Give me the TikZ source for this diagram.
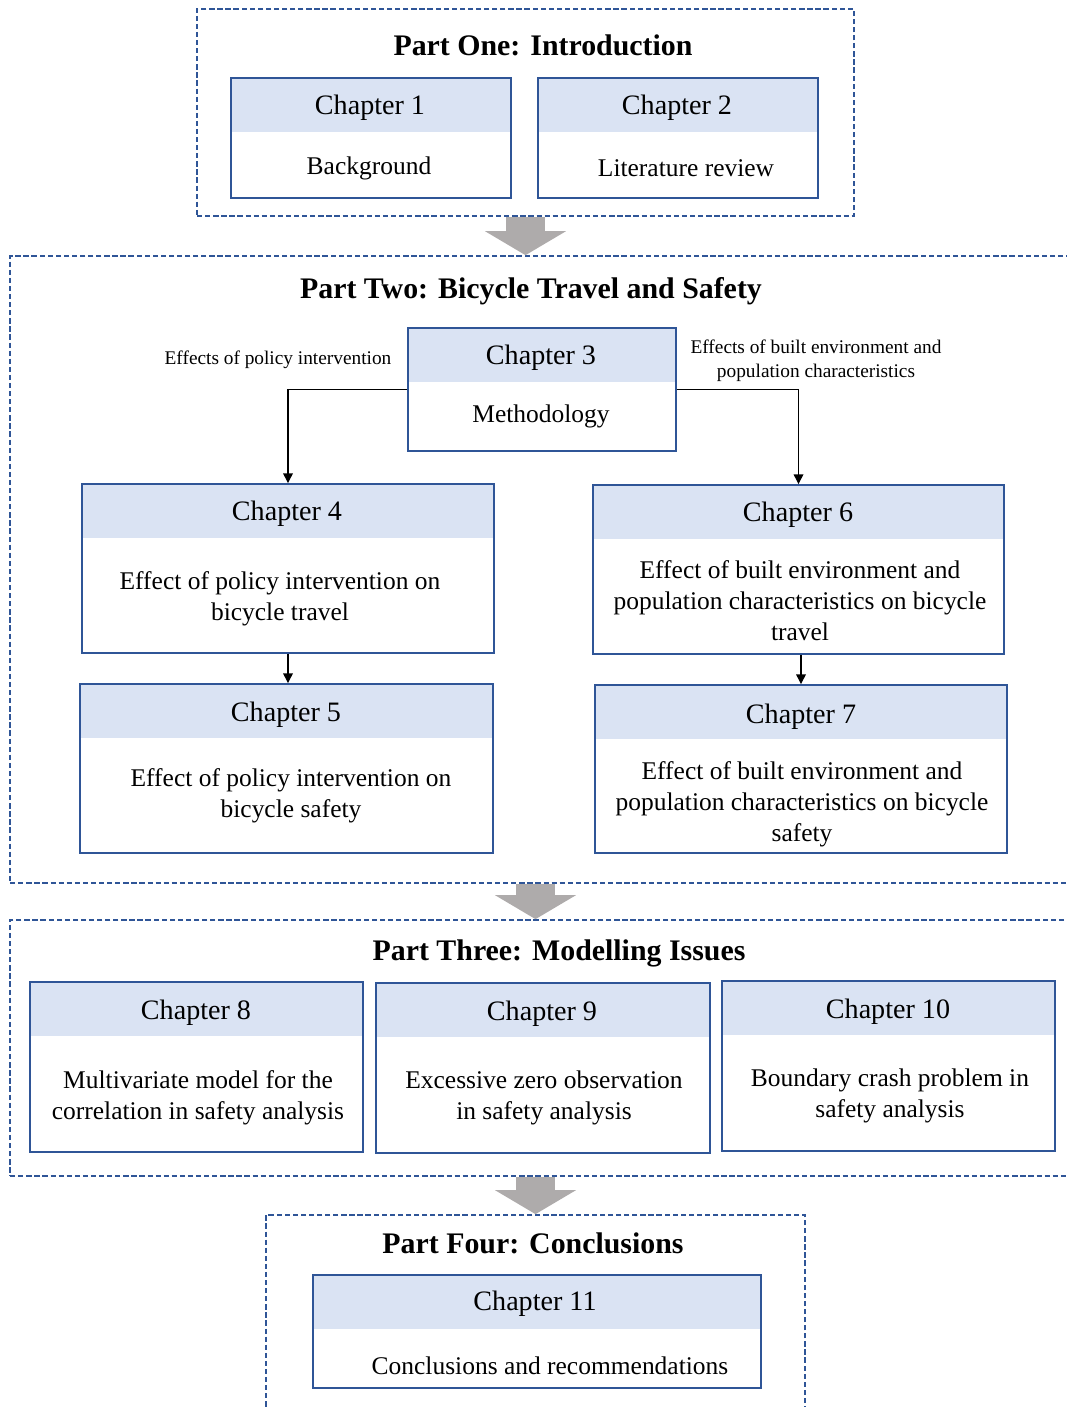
\documentclass[tikz,border=0pt]{standalone}
\usepackage{fontspec}
\setmainfont{Liberation Serif}
\usetikzlibrary{arrows.meta}
\definecolor{frameblue}{HTML}{2F5597}
\definecolor{headblue}{HTML}{DAE3F3}
\definecolor{arrowgray}{HTML}{AEABAB}

\begin{document}
\begin{tikzpicture}[
  x=0.02cm, y=-0.02cm, >={Triangle[length=5.5pt, width=5.5pt]},
  part/.style={draw=frameblue, line width=1pt, dash pattern=on 3pt off 1.6pt,
               inner sep=0pt},
  chbox/.style={draw=frameblue, line width=1.1pt, fill=white, inner sep=0pt,
                path picture={\fill[headblue] (path picture bounding box.north west)
                  rectangle ([yshift=-1.08cm]path picture bounding box.north east);}},
  ptitle/.style={font=\fontsize{17}{20}\selectfont\bfseries},
  chtitle/.style={font=\fontsize{16}{19}\selectfont},
  chtext/.style={font=\fontsize{14.5}{17.6}\selectfont, align=center},
  elab/.style={font=\fontsize{11}{13.6}\selectfont, align=center},
  link/.style={->, line width=0.7pt},
  bigarrow/.style={-{Triangle[width=1.6cm, length=0.48cm]}, line width=0.78cm, draw=arrowgray, fill=arrowgray}]
\clip (0,0) rectangle (1067,1407);
% --- part frames ---
\node[part, minimum width=13.14cm, minimum height=4.14cm] (p1) at (525.5,112.5) {};
\node[part, minimum width=21.4cm, minimum height=12.54cm] (p2) at (545,569.5) {};
\node[part, minimum width=21.4cm, minimum height=5.12cm] (p3) at (545,1048) {};
\node[part, minimum width=10.78cm, minimum height=4.3cm] (p4) at (535.5,1322.5) {};
\node[ptitle] (p1t) at (543,45)   {Part One: Introduction};
\node[ptitle] (p2t) at (531,291)  {Part Two: Bicycle Travel and Safety};
\node[ptitle] (p3t) at (559,953)  {Part Three: Modelling Issues};
\node[ptitle] (p4t) at (533,1243) {Part Four: Conclusions};
% --- part one ---
\node[chbox, minimum width=5.6cm, minimum height=2.4cm] (c1) at (371,138) {};
\node[chtitle] (c1t) at (370,108) {Chapter 1};
\node[chtext]  (c1b) at (369,168) {Background};
\node[chbox, minimum width=5.6cm, minimum height=2.4cm] (c2) at (678,138) {};
\node[chtitle] (c2t) at (677,108) {Chapter 2};
\node[chtext]  (c2b) at (686,168) {Literature review};
% --- part two ---
\node[chbox, minimum width=5.36cm, minimum height=2.46cm] (c3) at (542,389.5) {};
\node[chtitle] (c3t) at (541,358) {Chapter 3};
\node[chtext]  (c3b) at (541,416) {Methodology};
\node[elab] (l1) at (278,360) {Effects of policy intervention};
\node[elab] (l2) at (816,361) {Effects of built environment and\\population characteristics};
\node[chbox, minimum width=8.24cm, minimum height=3.38cm] (c4) at (288,568.5) {};
\node[chtitle] (c4t) at (287,514) {Chapter 4};
\node[chtext]  (c4b) at (280,599) {Effect of policy intervention on\\bicycle travel};
\node[chbox, minimum width=8.26cm, minimum height=3.38cm] (c5) at (286.5,768.5) {};
\node[chtitle] (c5t) at (286,715) {Chapter 5};
\node[chtext]  (c5b) at (291,796) {Effect of policy intervention on\\bicycle safety};
\node[chbox, minimum width=8.22cm, minimum height=3.38cm] (c6) at (798.5,569.5) {};
\node[chtitle] (c6t) at (798,515) {Chapter 6};
\node[chtext]  (c6b) at (800,601) {Effect of built environment and\\population characteristics on bicycle\\travel};
\node[chbox, minimum width=8.24cm, minimum height=3.36cm] (c7) at (801,769) {};
\node[chtitle] (c7t) at (801,717) {Chapter 7};
\node[chtext]  (c7b) at (802,804) {Effect of built environment and\\population characteristics on bicycle\\safety};
\draw[link] (c3.west) -| (c4.north);
\draw[link] (c3.east) -| (c6.north);
\draw[link] (c4.south) -- (c4.south |- c5.north);
\draw[link] (c6.south -| c7.north) -- (c7.north);
% --- part three ---
\node[chbox, minimum width=6.66cm, minimum height=3.4cm] (c8) at (196.5,1067) {};
\node[chtitle] (c8t) at (196,1013) {Chapter 8};
\node[chtext]  (c8b) at (198,1098) {Multivariate model for the\\correlation in safety analysis};
\node[chbox, minimum width=6.68cm, minimum height=3.4cm] (c9) at (543,1068) {};
\node[chtitle] (c9t) at (542,1014) {Chapter 9};
\node[chtext]  (c9b) at (544,1098) {Excessive zero observation\\in safety analysis};
\node[chbox, minimum width=6.66cm, minimum height=3.4cm] (c10) at (888.5,1066) {};
\node[chtitle] (c10t) at (888,1012) {Chapter 10};
\node[chtext]  (c10b) at (890,1096) {Boundary crash problem in\\safety analysis};
% --- part four ---
\node[chbox, minimum width=8.96cm, minimum height=2.26cm] (c11) at (537,1331.5) {};
\node[chtitle] (c11t) at (535,1304) {Chapter 11};
\node[chtext]  (c11b) at (550,1366) {Conclusions and recommendations};
% --- flow between parts ---
\draw[bigarrow] (p1.south) -- (p1.south |- p2.north);
\draw[bigarrow] (p2.south -| p4.north) -- (p3.north -| p4.north);
\draw[bigarrow] (p3.south -| p4.north) -- (p4.north);
\end{tikzpicture}
\end{document}
